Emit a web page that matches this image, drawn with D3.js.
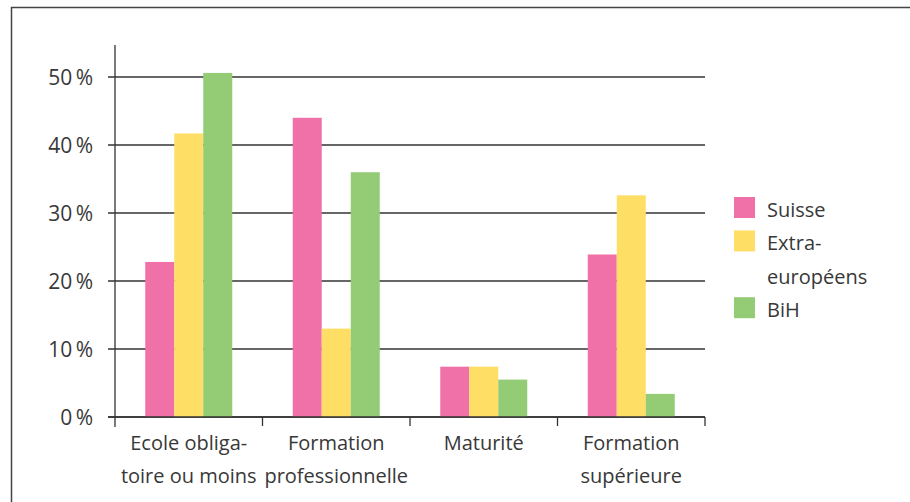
<!DOCTYPE html>
<html>
<head>
<meta charset="utf-8">
<script src="https://cdn.jsdelivr.net/npm/d3@7"></script>
<style>
  html, body { margin: 0; padding: 0; background: #fff; }
  svg text { font-family: "Open Sans", "Noto Sans", sans-serif; fill: #383838; }
</style>
</head>
<body>
<svg id="chart" width="910" height="502"></svg>
<script>
// Niveau de formation par groupe d'origine (en %)
const categories = [
  ["Ecole obliga-", "toire ou moins"],
  ["Formation", "professionnelle"],
  ["Maturité"],
  ["Formation", "supérieure"]
];
const seriesNames = ["Suisse", "Extra-européens", "BiH"];
const legendLabels = [["Suisse"], ["Extra-", "européens"], ["BiH"]];
const suisse = [22.8, 44.0, 7.4, 23.9];
const extraEuropeens = [41.7, 13.0, 7.4, 32.6];
const bih = [50.6, 36.0, 5.5, 3.4];
const yTicks = [0, 10, 20, 30, 40, 50];
const colors = ["#f071a8", "#ffde66", "#94cc76"];

const series = [suisse, extraEuropeens, bih];
const svg = d3.select("#chart");
const stroke = "#333";

// Cadre (haut et gauche)
svg.append("path")
  .attr("d", "M11.5,910 V7.5 H910")
  .attr("fill", "none")
  .attr("stroke", "#444")
  .attr("stroke-width", 1.5);

const x0 = d3.scaleBand()
  .domain(d3.range(categories.length))
  .range([115, 705])
  .paddingInner(0)
  .paddingOuter(0);

const x1 = d3.scaleBand()
  .domain(d3.range(seriesNames.length))
  .range([0, 87])
  .padding(0);

const y = d3.scaleLinear().domain([0, 50]).range([417, 77]);

// Lignes de grille et graduations de l'axe Y
const grid = svg.append("g");
grid.selectAll("line")
  .data(yTicks)
  .join("line")
  .attr("x1", 108).attr("x2", 705)
  .attr("y1", d => y(d)).attr("y2", d => y(d))
  .attr("stroke", stroke)
  .attr("stroke-width", 1.3);

grid.selectAll("text")
  .data(yTicks)
  .join("text")
  .attr("x", 93)
  .attr("y", d => y(d) + 7.5)
  .attr("text-anchor", "end")
  .attr("font-size", 21)
  .text(d => d + "\u2009%");

// Barres
const groups = svg.append("g")
  .selectAll("g")
  .data(categories.map((c, i) => i))
  .join("g")
  .attr("transform", i => `translate(${x0(i) + (x0.bandwidth() - 87) / 2},0)`);

groups.selectAll("rect")
  .data(i => series.map((s, k) => ({ k, v: s[i] })))
  .join("rect")
  .attr("x", d => x1(d.k))
  .attr("width", x1.bandwidth())
  .attr("y", d => y(d.v))
  .attr("height", d => y(0) - y(d.v))
  .attr("fill", d => colors[d.k]);

// Axe Y
svg.append("line")
  .attr("x1", 115).attr("x2", 115)
  .attr("y1", 45).attr("y2", 427)
  .attr("stroke", stroke)
  .attr("stroke-width", 1.3);

// Axe X : ligne de base et graduations entre catégories
svg.append("line")
  .attr("x1", 108).attr("x2", 705)
  .attr("y1", y(0)).attr("y2", y(0))
  .attr("stroke", stroke)
  .attr("stroke-width", 1.3);

svg.append("g")
  .selectAll("line")
  .data(d3.range(1, categories.length + 1))
  .join("line")
  .attr("x1", i => i < categories.length ? x0(i) : x0.range()[1])
  .attr("x2", i => i < categories.length ? x0(i) : x0.range()[1])
  .attr("y1", y(0)).attr("y2", y(0) + 9)
  .attr("stroke", stroke)
  .attr("stroke-width", 1.3);

// Libellés des catégories
svg.append("g")
  .selectAll("text")
  .data(categories)
  .join("text")
  .attr("text-anchor", "middle")
  .attr("font-size", 20)
  .each(function (lines, i) {
    d3.select(this).selectAll("tspan")
      .data(lines)
      .join("tspan")
      .attr("x", x0(i) + x0.bandwidth() / 2)
      .attr("y", (d, j) => 450 + j * 33)
      .text(d => d);
  });

// Légende
const legendRows = [0, 1, 3];
const legend = svg.append("g");
legendLabels.forEach((lines, k) => {
  const top = 197 + legendRows[k] * 33.4;
  legend.append("rect")
    .attr("x", 734).attr("y", top)
    .attr("width", 21).attr("height", 21)
    .attr("fill", colors[k]);
  lines.forEach((t, j) => {
    legend.append("text")
      .attr("x", 767)
      .attr("y", top + 20 + j * 33.4)
      .attr("font-size", 20)
      .text(t);
  });
});
</script>
</body>
</html>
